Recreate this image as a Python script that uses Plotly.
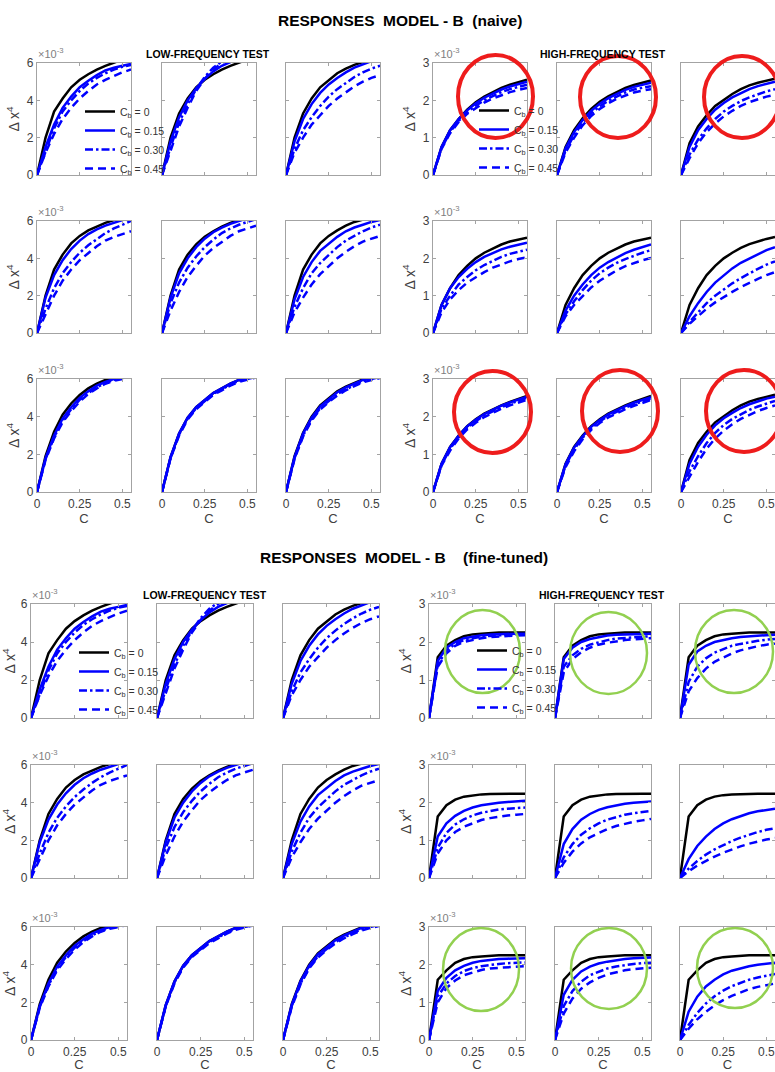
import plotly.graph_objects as go

# ---------------- DATA (values in units of 1e-3) ----------------
C = [0, 0.05, 0.10, 0.15, 0.20, 0.25, 0.30, 0.35, 0.40, 0.45, 0.50, 0.55]
CB_LABELS = ["C<sub>b</sub> = 0", "C<sub>b</sub> = 0.15", "C<sub>b</sub> = 0.30", "C<sub>b</sub> = 0.45"]
X_TICKS = [0, 0.25, 0.5]
X_TICKTEXT = ["0", "0.25", "0.5"]
LF_TICKS = [0, 2, 4, 6]
HF_TICKS = [0, 1, 2, 3]

# Low-frequency test (identical in both models); rows: Cb = 0, 0.15, 0.30, 0.45
lf_r1_p1 = [[0, 2.0, 3.4, 4.1, 4.7, 5.1, 5.4, 5.65, 5.85, 6.0, 6.2, 6.35],
            [0, 1.5, 2.7, 3.6, 4.2, 4.7, 5.05, 5.35, 5.6, 5.75, 5.85, 5.95],
            [0, 1.3, 2.5, 3.4, 4.0, 4.5, 4.9, 5.2, 5.45, 5.65, 5.8, 5.9],
            [0, 1.2, 2.2, 3.0, 3.6, 4.1, 4.5, 4.85, 5.1, 5.3, 5.5, 5.65]]
lf_r1_p2 = [[0, 2.0, 3.3, 4.1, 4.7, 5.1, 5.4, 5.65, 5.85, 6.0, 6.2, 6.35],
            [0, 1.8, 3.1, 4.0, 4.65, 5.15, 5.55, 5.85, 6.05, 6.25, 6.4, 6.55],
            [0, 1.5, 2.8, 3.8, 4.6, 5.25, 5.75, 6.1, 6.4, 6.6, 6.8, 7.0],
            [0, 1.3, 2.6, 3.6, 4.5, 5.15, 5.65, 6.0, 6.3, 6.55, 6.75, 6.9]]
lf_r1_p3 = [[0, 2.0, 3.3, 4.1, 4.7, 5.1, 5.45, 5.7, 5.9, 6.05, 6.2, 6.35],
            [0, 1.8, 3.0, 3.8, 4.4, 4.85, 5.2, 5.5, 5.75, 5.95, 6.1, 6.25],
            [0, 1.4, 2.4, 3.1, 3.7, 4.2, 4.6, 4.95, 5.25, 5.5, 5.7, 5.85],
            [0, 1.2, 2.0, 2.7, 3.2, 3.7, 4.1, 4.45, 4.75, 5.0, 5.2, 5.35]]
lf_r2_p1 = [[0, 2.0, 3.4, 4.2, 4.8, 5.2, 5.5, 5.7, 5.9, 6.05, 6.2, 6.35],
            [0, 1.9, 3.1, 3.9, 4.5, 4.95, 5.3, 5.55, 5.75, 5.9, 6.05, 6.2],
            [0, 1.3, 2.4, 3.2, 3.8, 4.3, 4.7, 5.05, 5.35, 5.6, 5.8, 6.0],
            [0, 1.0, 2.0, 2.8, 3.4, 3.9, 4.3, 4.65, 4.95, 5.15, 5.3, 5.45]]
lf_r2_p2 = [[0, 2.0, 3.4, 4.2, 4.75, 5.15, 5.45, 5.7, 5.9, 6.05, 6.2, 6.35],
            [0, 1.9, 3.2, 4.0, 4.6, 5.05, 5.4, 5.65, 5.85, 6.0, 6.15, 6.3],
            [0, 1.6, 2.7, 3.5, 4.1, 4.6, 5.0, 5.35, 5.6, 5.8, 5.95, 6.1],
            [0, 1.2, 2.2, 3.0, 3.6, 4.15, 4.55, 4.9, 5.2, 5.45, 5.6, 5.75]]
lf_r2_p3 = [[0, 2.0, 3.4, 4.2, 4.8, 5.2, 5.5, 5.75, 5.95, 6.05, 6.2, 6.35],
            [0, 1.8, 3.0, 3.8, 4.4, 4.8, 5.15, 5.45, 5.65, 5.8, 5.95, 6.05],
            [0, 1.4, 2.4, 3.2, 3.75, 4.2, 4.6, 4.95, 5.2, 5.45, 5.65, 5.8],
            [0, 1.1, 1.9, 2.6, 3.15, 3.6, 4.0, 4.35, 4.65, 4.9, 5.05, 5.2]]
lf_r3_p1 = [[0, 1.9, 3.2, 4.1, 4.7, 5.15, 5.5, 5.75, 5.95, 6.05, 6.2, 6.3],
            [0, 1.8, 3.0, 3.9, 4.5, 5.0, 5.35, 5.65, 5.85, 6.0, 6.1, 6.2],
            [0, 1.75, 2.9, 3.8, 4.4, 4.9, 5.25, 5.55, 5.8, 5.95, 6.05, 6.15],
            [0, 1.7, 2.85, 3.7, 4.3, 4.8, 5.2, 5.5, 5.75, 5.9, 6.0, 6.1]]
lf_r3_p2 = [[0, 1.85, 3.1, 3.95, 4.5, 4.9, 5.25, 5.5, 5.75, 5.95, 6.05, 6.15],
            [0, 1.85, 3.1, 3.95, 4.5, 4.9, 5.25, 5.5, 5.75, 5.95, 6.05, 6.15],
            [0, 1.8, 3.05, 3.9, 4.45, 4.85, 5.2, 5.45, 5.7, 5.9, 6.0, 6.1],
            [0, 1.78, 3.0, 3.85, 4.4, 4.8, 5.15, 5.4, 5.65, 5.85, 5.98, 6.08]]
lf_r3_p3 = [[0, 1.9, 3.15, 4.0, 4.6, 5.0, 5.35, 5.6, 5.8, 5.98, 6.1, 6.2],
            [0, 1.85, 3.1, 3.95, 4.55, 4.95, 5.3, 5.55, 5.75, 5.95, 6.05, 6.15],
            [0, 1.8, 3.0, 3.85, 4.45, 4.85, 5.2, 5.45, 5.68, 5.88, 6.0, 6.1],
            [0, 1.75, 2.95, 3.8, 4.38, 4.78, 5.12, 5.4, 5.62, 5.82, 5.95, 6.05]]

# High-frequency test, model B naive
hfn_r1_p1 = [[0, 0.75, 1.2, 1.5, 1.75, 1.95, 2.1, 2.22, 2.33, 2.42, 2.49, 2.55],
             [0, 0.75, 1.2, 1.5, 1.73, 1.92, 2.07, 2.19, 2.29, 2.37, 2.44, 2.5],
             [0, 0.72, 1.15, 1.45, 1.68, 1.86, 2.0, 2.12, 2.22, 2.3, 2.37, 2.42],
             [0, 0.7, 1.12, 1.42, 1.64, 1.8, 1.94, 2.05, 2.14, 2.22, 2.28, 2.33]]
hfn_r1_p2 = [[0, 0.75, 1.2, 1.52, 1.77, 1.96, 2.11, 2.23, 2.33, 2.41, 2.48, 2.53],
             [0, 0.72, 1.15, 1.47, 1.72, 1.91, 2.06, 2.18, 2.28, 2.36, 2.42, 2.47],
             [0, 0.65, 1.07, 1.4, 1.65, 1.84, 1.99, 2.11, 2.21, 2.29, 2.34, 2.38],
             [0, 0.6, 1.0, 1.33, 1.58, 1.77, 1.92, 2.04, 2.13, 2.21, 2.26, 2.3]]
hfn_r1_p3 = [[0, 0.85, 1.3, 1.6, 1.85, 2.02, 2.17, 2.3, 2.4, 2.47, 2.53, 2.58],
             [0, 0.75, 1.2, 1.5, 1.75, 1.93, 2.08, 2.2, 2.3, 2.38, 2.45, 2.5],
             [0, 0.55, 0.95, 1.25, 1.5, 1.7, 1.85, 1.98, 2.08, 2.17, 2.24, 2.3],
             [0, 0.45, 0.85, 1.15, 1.38, 1.57, 1.72, 1.85, 1.95, 2.03, 2.1, 2.15]]
hfn_r2_p1 = [[0, 0.75, 1.2, 1.55, 1.8, 2.0, 2.15, 2.27, 2.37, 2.45, 2.51, 2.55],
             [0, 0.75, 1.2, 1.5, 1.72, 1.9, 2.04, 2.15, 2.24, 2.31, 2.37, 2.42],
             [0, 0.65, 1.0, 1.3, 1.5, 1.68, 1.82, 1.94, 2.04, 2.12, 2.18, 2.23],
             [0, 0.55, 0.9, 1.15, 1.35, 1.5, 1.63, 1.75, 1.84, 1.92, 1.98, 2.03]]
hfn_r2_p2 = [[0, 0.75, 1.2, 1.55, 1.8, 2.0, 2.15, 2.27, 2.37, 2.45, 2.51, 2.55],
             [0, 0.6, 1.0, 1.3, 1.55, 1.75, 1.9, 2.03, 2.14, 2.23, 2.3, 2.37],
             [0, 0.5, 0.85, 1.15, 1.4, 1.6, 1.75, 1.88, 1.98, 2.07, 2.15, 2.22],
             [0, 0.45, 0.75, 1.0, 1.22, 1.4, 1.55, 1.68, 1.79, 1.88, 1.95, 2.01]]
hfn_r2_p3 = [[0, 0.75, 1.2, 1.55, 1.8, 2.0, 2.15, 2.28, 2.38, 2.46, 2.52, 2.57],
             [0, 0.45, 0.8, 1.1, 1.35, 1.55, 1.73, 1.88, 2.0, 2.12, 2.22, 2.3],
             [0, 0.3, 0.55, 0.8, 1.0, 1.17, 1.33, 1.47, 1.6, 1.72, 1.83, 1.92],
             [0, 0.25, 0.45, 0.65, 0.82, 0.97, 1.1, 1.23, 1.35, 1.45, 1.55, 1.63]]
hfn_r3_p1 = [[0, 0.75, 1.2, 1.5, 1.75, 1.93, 2.08, 2.2, 2.3, 2.39, 2.47, 2.55],
             [0, 0.75, 1.19, 1.49, 1.74, 1.92, 2.07, 2.19, 2.29, 2.38, 2.46, 2.53],
             [0, 0.72, 1.15, 1.45, 1.7, 1.88, 2.03, 2.15, 2.25, 2.34, 2.42, 2.5],
             [0, 0.7, 1.1, 1.42, 1.66, 1.84, 1.99, 2.11, 2.21, 2.3, 2.38, 2.45]]
hfn_r3_p2 = [[0, 0.75, 1.2, 1.5, 1.75, 1.93, 2.08, 2.2, 2.3, 2.39, 2.47, 2.55],
             [0, 0.74, 1.18, 1.48, 1.73, 1.91, 2.06, 2.18, 2.28, 2.37, 2.45, 2.52],
             [0, 0.7, 1.13, 1.44, 1.69, 1.87, 2.02, 2.14, 2.24, 2.33, 2.41, 2.48],
             [0, 0.66, 1.08, 1.4, 1.65, 1.83, 1.98, 2.1, 2.2, 2.29, 2.37, 2.44]]
hfn_r3_p3 = [[0, 0.85, 1.3, 1.6, 1.85, 2.02, 2.17, 2.3, 2.4, 2.47, 2.53, 2.58],
             [0, 0.75, 1.2, 1.52, 1.77, 1.96, 2.1, 2.23, 2.33, 2.41, 2.48, 2.53],
             [0, 0.55, 0.95, 1.3, 1.57, 1.78, 1.94, 2.07, 2.18, 2.27, 2.35, 2.42],
             [0, 0.4, 0.8, 1.15, 1.42, 1.63, 1.8, 1.94, 2.05, 2.15, 2.23, 2.3]]

# High-frequency test, model B fine-tuned
hff_r1_p1 = [[0, 1.6, 1.9, 2.05, 2.15, 2.2, 2.22, 2.24, 2.25, 2.25, 2.25, 2.25],
             [0, 1.5, 1.85, 2.0, 2.1, 2.15, 2.18, 2.2, 2.21, 2.22, 2.22, 2.22],
             [0, 1.4, 1.78, 1.95, 2.05, 2.1, 2.14, 2.16, 2.18, 2.19, 2.2, 2.2],
             [0, 1.35, 1.7, 1.9, 2.0, 2.06, 2.1, 2.13, 2.15, 2.16, 2.17, 2.18]]
hff_r1_p2 = [[0, 1.6, 1.9, 2.05, 2.15, 2.2, 2.22, 2.24, 2.25, 2.25, 2.25, 2.25],
             [0, 1.55, 1.85, 2.0, 2.08, 2.13, 2.17, 2.19, 2.2, 2.21, 2.22, 2.22],
             [0, 1.35, 1.65, 1.82, 1.93, 2.0, 2.05, 2.09, 2.11, 2.13, 2.14, 2.15],
             [0, 1.2, 1.55, 1.73, 1.85, 1.93, 1.98, 2.02, 2.05, 2.07, 2.09, 2.1]]
hff_r1_p3 = [[0, 1.6, 1.9, 2.05, 2.15, 2.2, 2.22, 2.24, 2.25, 2.25, 2.25, 2.25],
             [0, 1.4, 1.75, 1.9, 2.0, 2.06, 2.1, 2.13, 2.15, 2.17, 2.18, 2.19],
             [0, 0.95, 1.35, 1.57, 1.72, 1.82, 1.9, 1.95, 2.0, 2.03, 2.06, 2.08],
             [0, 0.7, 1.05, 1.3, 1.48, 1.6, 1.7, 1.78, 1.84, 1.89, 1.93, 1.96]]
hff_r2_p1 = [[0, 1.63, 1.93, 2.08, 2.16, 2.2, 2.22, 2.23, 2.24, 2.24, 2.24, 2.24],
             [0, 1.1, 1.45, 1.65, 1.78, 1.87, 1.93, 1.97, 2.0, 2.02, 2.04, 2.05],
             [0, 0.8, 1.2, 1.42, 1.56, 1.66, 1.73, 1.78, 1.82, 1.84, 1.86, 1.87],
             [0, 0.65, 1.0, 1.22, 1.36, 1.46, 1.54, 1.59, 1.63, 1.66, 1.68, 1.7]]
hff_r2_p2 = [[0, 1.63, 1.93, 2.08, 2.16, 2.2, 2.22, 2.23, 2.24, 2.24, 2.24, 2.24],
             [0, 0.9, 1.3, 1.55, 1.7, 1.81, 1.88, 1.93, 1.97, 2.0, 2.02, 2.03],
             [0, 0.55, 0.9, 1.15, 1.32, 1.45, 1.55, 1.62, 1.68, 1.72, 1.75, 1.78],
             [0, 0.4, 0.7, 0.92, 1.08, 1.2, 1.3, 1.38, 1.44, 1.49, 1.53, 1.57]]
hff_r2_p3 = [[0, 1.63, 1.93, 2.08, 2.16, 2.2, 2.22, 2.23, 2.24, 2.24, 2.24, 2.24],
             [0, 0.5, 0.85, 1.1, 1.3, 1.45, 1.56, 1.65, 1.72, 1.77, 1.81, 1.84],
             [0, 0.25, 0.45, 0.62, 0.76, 0.88, 0.98, 1.07, 1.15, 1.22, 1.28, 1.32],
             [0, 0.18, 0.33, 0.46, 0.57, 0.67, 0.76, 0.84, 0.91, 0.97, 1.02, 1.06]]
hff_r3_p1 = [[0, 1.6, 1.85, 2.05, 2.15, 2.2, 2.22, 2.24, 2.25, 2.25, 2.25, 2.25],
             [0, 1.3, 1.65, 1.85, 1.97, 2.05, 2.1, 2.13, 2.15, 2.16, 2.17, 2.17],
             [0, 1.15, 1.5, 1.7, 1.83, 1.91, 1.96, 2.0, 2.02, 2.04, 2.05, 2.06],
             [0, 1.0, 1.38, 1.58, 1.72, 1.8, 1.86, 1.9, 1.92, 1.94, 1.95, 1.96]]
hff_r3_p2 = [[0, 1.6, 1.85, 2.05, 2.15, 2.2, 2.22, 2.24, 2.25, 2.25, 2.25, 2.25],
             [0, 1.2, 1.6, 1.82, 1.95, 2.03, 2.08, 2.12, 2.15, 2.17, 2.18, 2.19],
             [0, 0.9, 1.3, 1.55, 1.72, 1.82, 1.9, 1.95, 1.99, 2.02, 2.04, 2.05],
             [0, 0.7, 1.1, 1.36, 1.53, 1.65, 1.74, 1.8, 1.85, 1.88, 1.9, 1.92]]
hff_r3_p3 = [[0, 1.6, 1.85, 2.05, 2.15, 2.2, 2.22, 2.24, 2.25, 2.25, 2.25, 2.25],
             [0, 0.75, 1.15, 1.42, 1.6, 1.74, 1.84, 1.91, 1.96, 2.0, 2.03, 2.05],
             [0, 0.4, 0.72, 0.97, 1.16, 1.31, 1.43, 1.52, 1.6, 1.66, 1.71, 1.75],
             [0, 0.3, 0.55, 0.75, 0.92, 1.06, 1.17, 1.27, 1.35, 1.41, 1.46, 1.5]]

# ---------------- LAYOUT HELPERS ----------------
W, H = 775, 1072
FONT = "Liberation Sans, Arial, sans-serif"
FRAME = "#a3a3a3"
TICKC = "#404040"
STYLES = [dict(color="#000000", dash="solid"),
          dict(color="#0000ff", dash="solid"),
          dict(color="#0000ff", dash="8px,3px,2.5px,3px"),
          dict(color="#0000ff", dash="8px,5px")]


def px_x(p):
    return p / W


def px_y(p):
    return 1 - p / H


sections = [
    dict(cols=[(37, 131), (162, 256), (286, 380), (433, 527), (557, 651), (681, 775)],
         rows=[(63, 175), (221, 333), (379, 492)],
         lf=[[lf_r1_p1, lf_r1_p2, lf_r1_p3], [lf_r2_p1, lf_r2_p2, lf_r2_p3], [lf_r3_p1, lf_r3_p2, lf_r3_p3]],
         hf=[[hfn_r1_p1, hfn_r1_p2, hfn_r1_p3], [hfn_r2_p1, hfn_r2_p2, hfn_r2_p3], [hfn_r3_p1, hfn_r3_p2, hfn_r3_p3]],
         legends=("legend", "legend2")),
    dict(cols=[(31, 127), (157, 253), (283, 379), (429, 525), (555, 651), (680, 775)],
         rows=[(604, 718), (765, 878), (927, 1040)],
         lf=[[lf_r1_p1, lf_r1_p2, lf_r1_p3], [lf_r2_p1, lf_r2_p2, lf_r2_p3], [lf_r3_p1, lf_r3_p2, lf_r3_p3]],
         hf=[[hff_r1_p1, hff_r1_p2, hff_r1_p3], [hff_r2_p1, hff_r2_p2, hff_r2_p3], [hff_r3_p1, hff_r3_p2, hff_r3_p3]],
         legends=("legend3", "legend4")),
]

fig = go.Figure()
layout = {}
annotations = []
n = 0
for s in sections:
    for r, (top, bot) in enumerate(s["rows"]):
        for c, (left, right) in enumerate(s["cols"]):
            n += 1
            is_lf = c < 3
            data = s["lf"][r][c] if is_lf else s["hf"][r][c - 3]
            legend_name = s["legends"][0] if is_lf else s["legends"][1]
            first_col = c in (0, 3)
            show_leg = (r == 0 and first_col)
            xa = "x" if n == 1 else f"x{n}"
            ya = "y" if n == 1 else f"y{n}"
            for k in range(4):
                fig.add_trace(go.Scatter(
                    x=C, y=data[k], mode="lines", xaxis=xa, yaxis=ya,
                    name=CB_LABELS[k], legend=legend_name, showlegend=show_leg,
                    line=dict(color=STYLES[k]["color"], dash=STYLES[k]["dash"], width=2.5),
                    hoverinfo="skip"))
            common = dict(showline=True, linecolor=FRAME, linewidth=1.3, mirror="allticks",
                          ticks="inside", ticklen=3, tickcolor=FRAME, tickwidth=1,
                          showgrid=False, zeroline=False, fixedrange=True, automargin=False,
                          ticklabeloverflow="allow",
                          tickfont=dict(family=FONT, size=12, color=TICKC))
            xkey = "xaxis" if n == 1 else f"xaxis{n}"
            ykey = "yaxis" if n == 1 else f"yaxis{n}"
            xd = dict(domain=[px_x(left), min(px_x(right), 1.0)], range=[0, 0.55],
                      tickvals=X_TICKS, ticktext=X_TICKTEXT, showticklabels=(r == 2),
                      anchor=ya, **common)
            if r == 2:
                xd["title"] = dict(text="C", standoff=2, font=dict(family=FONT, size=13, color=TICKC))
            yd = dict(domain=[px_y(bot), px_y(top)], range=[0, 6 if is_lf else 3],
                      tickvals=LF_TICKS if is_lf else HF_TICKS, showticklabels=first_col,
                      anchor=xa, **common)
            if first_col:
                yd["title"] = dict(text="Δ x<sup>4</sup>", standoff=3,
                                   font=dict(family=FONT, size=14, color=TICKC))
                annotations.append(dict(text="×10<sup>-3</sup>", x=px_x(left - 1), y=px_y(top - 1),
                                        xref="paper", yref="paper", xanchor="left", yanchor="bottom",
                                        showarrow=False, font=dict(family=FONT, size=11, color="#808080")))
            layout[xkey] = xd
            layout[ykey] = yd

# Titles
TITLE_FONT = dict(family=FONT, size=15.5, color="#000000")
SUB_FONT = dict(family=FONT, size=10.5, color="#000000")
for txt, xc, yc, f in [
    ("<b>RESPONSES\u00a0\u00a0MODEL - B\u00a0\u00a0(naive)</b>", 400, 20, TITLE_FONT),
    ("<b>RESPONSES\u00a0\u00a0MODEL - B\u00a0\u00a0\u00a0\u00a0(fine-tuned)</b>", 404, 557, TITLE_FONT),
    ("<b>LOW-FREQUENCY TEST</b>", 208, 54, SUB_FONT),
    ("<b>HIGH-FREQUENCY TEST</b>", 603, 54, SUB_FONT),
    ("<b>LOW-FREQUENCY TEST</b>", 205, 595, SUB_FONT),
    ("<b>HIGH-FREQUENCY TEST</b>", 602, 595, SUB_FONT),
]:
    annotations.append(dict(text=txt, x=px_x(xc), y=px_y(yc), xref="paper", yref="paper",
                            xanchor="center", yanchor="middle", showarrow=False, font=f))

# Highlight ellipses (pixel boxes)
RED = "#ee1c1c"
GREEN = "#92d050"
ellipses = [
    ((458, 55, 533, 138), RED, 4), ((580, 56, 656, 138), RED, 4), ((704, 56, 780, 138), RED, 4),
    ((454, 371, 531, 453), RED, 4), ((582, 370, 658, 452), RED, 4), ((706, 370, 782, 452), RED, 4),
    ((445, 610, 520, 693), GREEN, 2.5), ((570, 612, 647, 694), GREEN, 2.5), ((695, 610, 773, 693), GREEN, 2.5),
    ((443, 928, 519, 1011), GREEN, 2.5), ((571, 928, 647, 1009), GREEN, 2.5), ((697, 928, 773, 1008), GREEN, 2.5),
]
shapes = []
for (x0, y0, x1, y1), col, w in ellipses:
    shapes.append(dict(type="circle", xref="paper", yref="paper", x0=px_x(x0), x1=px_x(x1),
                       y0=px_y(y1), y1=px_y(y0), line=dict(color=col, width=w), layer="above"))

leg_common = dict(bgcolor="rgba(0,0,0,0)", borderwidth=0, xanchor="left", yanchor="top",
                  font=dict(family=FONT, size=10.5, color="#333333"), itemwidth=30,
                  tracegroupgap=0)
layout["legend"] = dict(x=px_x(80), y=px_y(97), **leg_common)
layout["legend2"] = dict(x=px_x(474), y=px_y(96), **leg_common)
layout["legend3"] = dict(x=px_x(74), y=px_y(638), **leg_common)
layout["legend4"] = dict(x=px_x(472), y=px_y(636), **leg_common)

fig.update_layout(width=W, height=H, margin=dict(l=0, r=0, t=0, b=0, autoexpand=False),
                  paper_bgcolor="white", plot_bgcolor="white",
                  annotations=annotations, shapes=shapes, **layout)

fig.write_html("out.html", config={"displayModeBar": False},
               post_script="document.body.style.margin='0';document.body.style.overflow='hidden';")
